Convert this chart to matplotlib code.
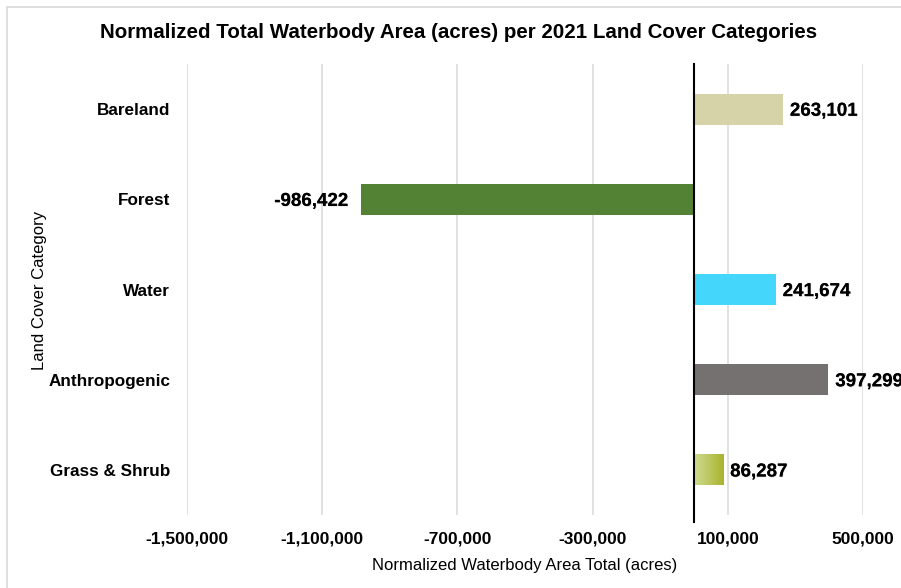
import matplotlib.pyplot as plt
import matplotlib.patheffects as pe
from matplotlib.patches import Rectangle
from matplotlib.colors import LinearSegmentedColormap
from matplotlib.ticker import FuncFormatter
import numpy as np

categories = ["Bareland", "Forest", "Water", "Anthropogenic", "Grass & Shrub"]
values = [263101, -986422, 241674, 397299, 86287]
colors = ["#D6D3A9", "#548235", "#45D6FC", "#767171", "#BCC75C"]
grass_gradient = ["#CFDC93", "#A9B32C"]
xticks = [-1500000, -1100000, -700000, -300000, 100000, 500000]

plt.rcParams['font.family'] = ['Liberation Sans', 'DejaVu Sans']

fig = plt.figure(figsize=(9.01, 5.88), dpi=100)
W, H = 901, 588
ax = fig.add_axes([187 / W, (H - 515) / H, (863 - 187) / W, (515 - 64) / H])

# chart frame
fig.patches.append(Rectangle((6.5 / W, -0.1), 1.2, (H - 7.5) / H + 0.1,
                             transform=fig.transFigure, fill=False,
                             edgecolor="#D9D9D9", lw=1.2))

y = np.arange(len(categories))
bars = ax.barh(y, values, height=0.345, color=colors, zorder=3)

# gradient fill on the grass bar
gb = bars[4]
cmap = LinearSegmentedColormap.from_list("grass", grass_gradient)
grad = np.linspace(0, 1, 256).reshape(1, -1)
im = ax.imshow(grad, cmap=cmap, aspect="auto", zorder=4,
               extent=[gb.get_x(), gb.get_x() + gb.get_width(),
                       gb.get_y() + gb.get_height(), gb.get_y()])
im.set_clip_path(gb)

ax.set_xlim(-1500000, 500000)
ax.set_ylim(len(categories) - 0.5, -0.5)
ax.set_xticks(xticks)
ax.xaxis.set_major_formatter(FuncFormatter(lambda v, p: f"{int(v):,}"))
ax.set_yticks(y)
ax.set_yticklabels(categories, fontsize=12.3, fontweight="bold")
for t in ax.get_xticklabels():
    t.set_fontsize(12.5)
    t.set_fontweight("bold")
ax.tick_params(length=0, pad=12)
ax.tick_params(axis="y", pad=12)
ax.grid(axis="x", color="#D9D9D9", lw=1.1, zorder=0)
for s in ax.spines.values():
    s.set_visible(False)

ax.axvline(0, color="black", lw=1.5, zorder=5, ymin=-0.016, clip_on=False)

shadow = [pe.withSimplePatchShadow(offset=(0.6, -0.6), shadow_rgbFace="#999999", alpha=0.25),
          pe.Normal()]
for i, v in enumerate(values):
    label = f"{v:,}"
    if v < 0:
        ax.annotate(label, (v, i), xytext=(-9, -1.5), textcoords="offset points",
                    ha="right", va="center", fontsize=13.5, fontweight="bold",
                    path_effects=shadow)
    else:
        ax.annotate(label, (v, i), xytext=(5, -1.5), textcoords="offset points",
                    ha="left", va="center", fontsize=13.5, fontweight="bold",
                    path_effects=shadow, annotation_clip=False)

ax.set_xlabel("Normalized Waterbody Area Total (acres)", fontsize=12, labelpad=8)
fig.text(40 / W, 1 - 290 / H, "Land Cover Category", rotation=90,
         ha="center", va="center", fontsize=12)
fig.text(459 / W, 1 - 33 / H,
         "Normalized Total Waterbody Area (acres) per 2021 Land Cover Categories",
         ha="center", va="center", fontsize=14.8, fontweight="bold")

fig.savefig("out.png", dpi=100)
